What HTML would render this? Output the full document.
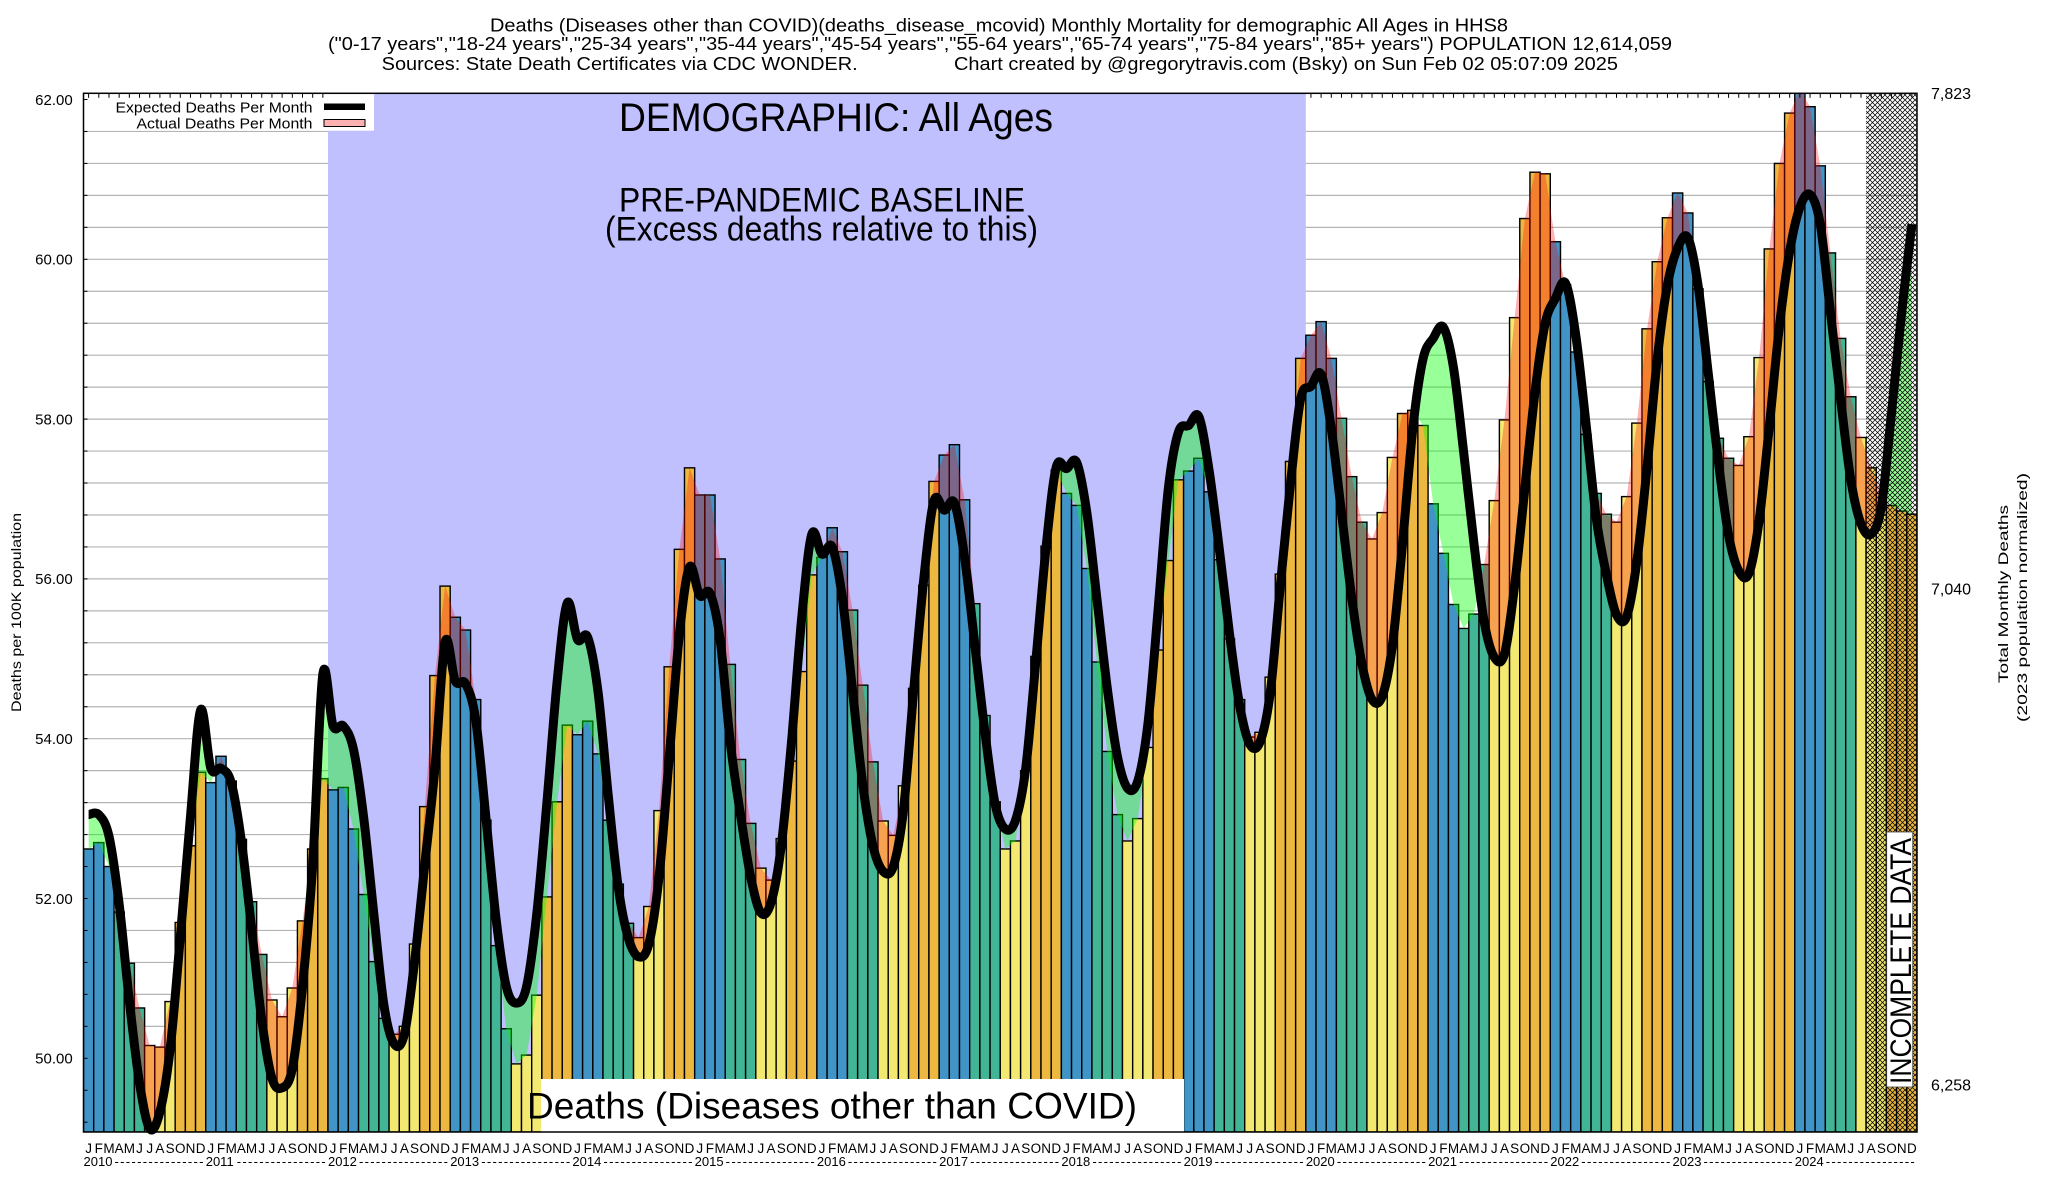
<!DOCTYPE html>
<html><head><meta charset="utf-8"><style>
html,body{margin:0;padding:0;background:#fff;}
svg{display:block;font-family:"Liberation Sans",Arial,Helvetica,sans-serif;}
</style></head><body>
<svg id="c" width="2048" height="1200" viewBox="0 0 2048 1200" xmlns="http://www.w3.org/2000/svg">
<defs>
<clipPath id="plot"><rect x="83.5" y="93.3" width="1833.5" height="1038.7"/></clipPath>
<pattern id="hatch" patternUnits="userSpaceOnUse" width="5" height="5">
<path d="M0,0L5,5M5,0L0,5" stroke="#000" stroke-width="0.75"/>
</pattern>
<clipPath id="cAboveE"><path id="pAboveE" d=""/></clipPath>
<clipPath id="cAboveA"><path id="pAboveA" d=""/></clipPath>
</defs>
<rect width="2048" height="1200" fill="#fff"/>
<g id="grid" stroke="#b4b4b4" stroke-width="1.2"></g>
<rect x="328" y="93.3" width="977.8" height="1038.7" fill="#c0c0ff"/>
<g id="bars" clip-path="url(#plot)" stroke="#000" stroke-width="1.4"></g>
<g clip-path="url(#plot)">
<path id="red" fill="rgba(255,0,0,0.3)" clip-path="url(#cAboveE)" d=""/>
<path id="green" fill="rgba(0,255,0,0.4)" clip-path="url(#cAboveA)" d=""/>
</g>
<rect x="1866.1" y="93.3" width="50.9" height="1038.7" fill="url(#hatch)"/>
<path id="exp" fill="none" stroke="#000" stroke-width="9" stroke-linejoin="round" d=""/>

<!-- legend -->
<rect x="83.5" y="93.3" width="290.5" height="37.4" fill="#fff"/>
<text x="312.5" y="112.5" font-size="15" text-anchor="end" textLength="197" lengthAdjust="spacingAndGlyphs">Expected Deaths Per Month</text>
<text x="312.5" y="128.5" font-size="15" text-anchor="end" textLength="176" lengthAdjust="spacingAndGlyphs">Actual Deaths Per Month</text>
<rect x="324" y="103.5" width="41" height="6.5" fill="#000"/>
<rect x="324" y="119.5" width="41" height="7" fill="#ffb0b0" stroke="#000" stroke-width="1"/>

<!-- big labels -->
<text x="619" y="131" font-size="40" textLength="434" lengthAdjust="spacingAndGlyphs">DEMOGRAPHIC: All Ages</text>
<text x="619" y="211.6" font-size="34" textLength="406" lengthAdjust="spacingAndGlyphs">PRE-PANDEMIC BASELINE</text>
<text x="605" y="240.3" font-size="34" textLength="433" lengthAdjust="spacingAndGlyphs">(Excess deaths relative to this)</text>

<rect x="541" y="1079" width="643" height="53" fill="#fff"/>
<text x="527" y="1118.5" font-size="37" textLength="610" lengthAdjust="spacingAndGlyphs">Deaths (Diseases other than COVID)</text>

<rect x="1886.7" y="832" width="26" height="255" fill="#fff" stroke="#444" stroke-width="0.8"/>
<text transform="translate(1911,1084) rotate(-90)" font-size="30" textLength="246" lengthAdjust="spacingAndGlyphs">INCOMPLETE DATA</text>

<!-- title -->
<text x="490" y="31.5" font-size="18" textLength="1018" lengthAdjust="spacingAndGlyphs">Deaths (Diseases other than COVID)(deaths_disease_mcovid) Monthly Mortality for demographic All Ages in HHS8</text>
<text x="328" y="50" font-size="18" textLength="1344" lengthAdjust="spacingAndGlyphs">("0-17 years","18-24 years","25-34 years","35-44 years","45-54 years","55-64 years","65-74 years","75-84 years","85+ years") POPULATION 12,614,059</text>
<text x="381.7" y="70" font-size="18" textLength="476" lengthAdjust="spacingAndGlyphs">Sources: State Death Certificates via CDC WONDER.</text>
<text x="954" y="70" font-size="18" textLength="664" lengthAdjust="spacingAndGlyphs">Chart created by @gregorytravis.com (Bsky) on Sun Feb 02 05:07:09 2025</text>

<!-- y axis labels -->
<g font-size="15" text-anchor="end">
<text x="72.7" y="105">62.00</text>
<text x="72.7" y="264.6">60.00</text>
<text x="72.7" y="424.4">58.00</text>
<text x="72.7" y="584.2">56.00</text>
<text x="72.7" y="744">54.00</text>
<text x="72.7" y="903.8">52.00</text>
<text x="72.7" y="1063.6">50.00</text>
</g>
<g font-size="16">
<text x="1931" y="99">7,823</text>
<text x="1931" y="594.7">7,040</text>
<text x="1931" y="1090.7">6,258</text>
</g>
<text transform="translate(21,712) rotate(-90)" font-size="14" textLength="199" lengthAdjust="spacingAndGlyphs">Deaths per 100K population</text>
<text transform="translate(2008,683) rotate(-90)" font-size="14" textLength="178" lengthAdjust="spacingAndGlyphs">Total Monthly Deaths</text>
<text transform="translate(2027,722) rotate(-90)" font-size="14" textLength="249" lengthAdjust="spacingAndGlyphs">(2023 population normalized)</text>

<!-- x axis month letters -->
<g font-size="13.5" text-anchor="middle">
<text transform="translate(83.50,1153)" x="5.09 15.28 25.47 35.65 45.84 56.02 66.21 76.40 86.58 96.77 106.95 117.14">JFMAMJJASOND</text>
<text transform="translate(205.73,1153)" x="5.09 15.28 25.47 35.65 45.84 56.02 66.21 76.40 86.58 96.77 106.95 117.14">JFMAMJJASOND</text>
<text transform="translate(327.97,1153)" x="5.09 15.28 25.47 35.65 45.84 56.02 66.21 76.40 86.58 96.77 106.95 117.14">JFMAMJJASOND</text>
<text transform="translate(450.20,1153)" x="5.09 15.28 25.47 35.65 45.84 56.02 66.21 76.40 86.58 96.77 106.95 117.14">JFMAMJJASOND</text>
<text transform="translate(572.43,1153)" x="5.09 15.28 25.47 35.65 45.84 56.02 66.21 76.40 86.58 96.77 106.95 117.14">JFMAMJJASOND</text>
<text transform="translate(694.67,1153)" x="5.09 15.28 25.47 35.65 45.84 56.02 66.21 76.40 86.58 96.77 106.95 117.14">JFMAMJJASOND</text>
<text transform="translate(816.90,1153)" x="5.09 15.28 25.47 35.65 45.84 56.02 66.21 76.40 86.58 96.77 106.95 117.14">JFMAMJJASOND</text>
<text transform="translate(939.13,1153)" x="5.09 15.28 25.47 35.65 45.84 56.02 66.21 76.40 86.58 96.77 106.95 117.14">JFMAMJJASOND</text>
<text transform="translate(1061.37,1153)" x="5.09 15.28 25.47 35.65 45.84 56.02 66.21 76.40 86.58 96.77 106.95 117.14">JFMAMJJASOND</text>
<text transform="translate(1183.60,1153)" x="5.09 15.28 25.47 35.65 45.84 56.02 66.21 76.40 86.58 96.77 106.95 117.14">JFMAMJJASOND</text>
<text transform="translate(1305.83,1153)" x="5.09 15.28 25.47 35.65 45.84 56.02 66.21 76.40 86.58 96.77 106.95 117.14">JFMAMJJASOND</text>
<text transform="translate(1428.07,1153)" x="5.09 15.28 25.47 35.65 45.84 56.02 66.21 76.40 86.58 96.77 106.95 117.14">JFMAMJJASOND</text>
<text transform="translate(1550.30,1153)" x="5.09 15.28 25.47 35.65 45.84 56.02 66.21 76.40 86.58 96.77 106.95 117.14">JFMAMJJASOND</text>
<text transform="translate(1672.53,1153)" x="5.09 15.28 25.47 35.65 45.84 56.02 66.21 76.40 86.58 96.77 106.95 117.14">JFMAMJJASOND</text>
<text transform="translate(1794.77,1153)" x="5.09 15.28 25.47 35.65 45.84 56.02 66.21 76.40 86.58 96.77 106.95 117.14">JFMAMJJASOND</text>
</g>
<g font-size="13">
<text x="83.5" y="1166">2010</text><text x="114.5" y="1166" textLength="89" lengthAdjust="spacing">----------------</text>
<text x="205.73" y="1166">2011</text><text x="236.73" y="1166" textLength="89" lengthAdjust="spacing">----------------</text>
<text x="327.97" y="1166">2012</text><text x="358.97" y="1166" textLength="89" lengthAdjust="spacing">----------------</text>
<text x="450.20" y="1166">2013</text><text x="481.20" y="1166" textLength="89" lengthAdjust="spacing">----------------</text>
<text x="572.43" y="1166">2014</text><text x="603.43" y="1166" textLength="89" lengthAdjust="spacing">----------------</text>
<text x="694.67" y="1166">2015</text><text x="725.67" y="1166" textLength="89" lengthAdjust="spacing">----------------</text>
<text x="816.90" y="1166">2016</text><text x="847.90" y="1166" textLength="89" lengthAdjust="spacing">----------------</text>
<text x="939.13" y="1166">2017</text><text x="970.13" y="1166" textLength="89" lengthAdjust="spacing">----------------</text>
<text x="1061.37" y="1166">2018</text><text x="1092.37" y="1166" textLength="89" lengthAdjust="spacing">----------------</text>
<text x="1183.60" y="1166">2019</text><text x="1214.60" y="1166" textLength="89" lengthAdjust="spacing">----------------</text>
<text x="1305.83" y="1166">2020</text><text x="1336.83" y="1166" textLength="89" lengthAdjust="spacing">----------------</text>
<text x="1428.07" y="1166">2021</text><text x="1459.07" y="1166" textLength="89" lengthAdjust="spacing">----------------</text>
<text x="1550.30" y="1166">2022</text><text x="1581.30" y="1166" textLength="89" lengthAdjust="spacing">----------------</text>
<text x="1672.53" y="1166">2023</text><text x="1703.53" y="1166" textLength="89" lengthAdjust="spacing">----------------</text>
<text x="1794.77" y="1166">2024</text><text x="1825.77" y="1166" textLength="89" lengthAdjust="spacing">----------------</text>
</g>

<g id="ticks" stroke="#000" stroke-width="1"></g>
<rect x="83.5" y="93.3" width="1833.5" height="1038.7" fill="none" stroke="#000" stroke-width="1.5"/>
</svg>
<script>
(function(){
var A=[52.62,52.70,52.40,51.83,51.19,50.63,50.16,50.14,50.71,51.70,52.66,53.58,
53.45,53.78,53.47,52.74,51.96,51.30,50.73,50.52,50.88,51.72,52.62,53.50,
53.36,53.39,52.87,52.05,51.21,50.50,50.30,50.40,51.43,53.15,54.79,55.91,
55.52,55.36,54.49,52.98,51.41,50.37,49.93,50.04,50.79,52.02,53.21,54.17,
54.05,54.22,53.81,52.98,52.18,51.69,51.51,51.90,53.10,54.90,56.37,57.39,
57.05,57.05,56.25,54.93,53.74,52.94,52.38,52.23,52.75,53.72,54.84,56.05,
56.27,56.64,56.34,55.61,54.67,53.71,52.97,52.79,53.41,54.63,55.92,57.22,
57.55,57.68,56.99,55.69,54.29,53.21,52.62,52.72,53.60,55.03,56.41,57.36,
57.07,56.92,56.13,54.96,53.84,53.05,52.72,53.00,53.89,55.11,56.23,57.24,
57.35,57.51,57.09,56.24,55.25,54.49,54.02,54.08,54.77,56.06,57.47,58.76,
59.05,59.22,58.76,58.01,57.28,56.71,56.50,56.83,57.52,58.07,58.11,57.92,
56.94,56.32,55.68,55.38,55.56,56.18,56.98,57.99,59.27,60.51,61.09,61.07,
60.22,59.68,58.84,57.81,57.07,56.81,56.71,57.03,57.95,59.13,59.97,60.52,
60.83,60.58,59.63,58.47,57.76,57.51,57.42,57.78,58.77,60.13,61.20,61.83,
62.12,61.91,61.17,60.08,59.01,58.28,57.77,57.39,57.07,56.92,56.85,56.81];
var E=[53.05,53.05,52.78,51.93,50.72,49.69,49.12,49.33,50.11,51.51,53.02,54.36,
53.63,53.63,53.45,52.72,51.63,50.48,49.75,49.63,49.87,50.90,52.42,54.81,
54.16,54.16,53.87,53.02,51.81,50.66,50.18,50.30,51.21,52.42,53.63,55.21,
54.72,54.69,54.24,53.02,51.75,50.90,50.69,50.90,51.81,53.21,54.72,55.70,
55.24,55.27,54.60,53.31,52.14,51.50,51.27,51.43,52.27,53.76,55.31,56.15,
55.79,55.82,55.24,53.95,53.05,52.27,51.82,51.95,52.66,53.95,55.50,56.56,
56.31,56.40,55.76,54.60,53.43,52.66,52.34,52.40,53.11,54.60,56.01,56.98,
56.86,56.95,56.27,55.18,54.08,53.18,52.87,52.98,53.63,54.98,56.40,57.40,
57.38,57.46,56.83,55.74,54.64,53.78,53.38,53.47,54.19,55.62,57.13,57.84,
57.92,58.03,57.36,56.38,55.32,54.42,53.93,53.96,54.57,55.92,57.20,58.26,
58.41,58.56,57.88,56.83,55.77,54.94,54.49,54.53,55.17,56.45,57.88,58.75,
59.01,59.15,58.64,57.58,56.45,55.47,55.02,55.06,55.92,57.13,58.34,59.20,
59.51,59.70,59.05,57.95,56.77,56.06,55.55,55.53,56.22,57.40,58.75,59.68,
60.14,60.27,59.68,58.58,57.47,56.55,56.10,56.07,56.73,57.91,59.17,60.10,
60.65,60.81,60.44,59.34,58.25,57.24,56.69,56.56,56.90,58.08,59.34,60.44];
var L=83.5,R=1917,T=93.3,B=1132,P=(R-L)/180;
function Y(v){return 259.3+(60-v)*79.9;}
function f(n){return n.toFixed(2);}
var g='';
for(var k=1;k<=32;k++){var y=Y(62-0.4*k);g+='<line x1="'+L+'" x2="'+R+'" y1="'+f(y)+'" y2="'+f(y)+'"/>';}
document.getElementById('grid').innerHTML=g;
var cols=['#4194c6','#42b596','#f3e970','#edb840'];
var b='';
for(var i=0;i<180;i++){var x=L+i*P,yy=Math.max(Y(A[i]),T-5);
b+='<rect x="'+f(x)+'" y="'+f(yy)+'" width="'+f(P)+'" height="'+f(B-yy)+'" fill="'+cols[Math.floor((i%12)/3)]+'"/>';}
document.getElementById('bars').innerHTML=b;
var ep=E.map(function(v,i){return [L+(i+0.5)*P,Y(v)];});
var d='M'+f(ep[0][0])+','+f(ep[0][1]);
for(var i=0;i<ep.length-1;i++){var p0=ep[i-1]||ep[i],p1=ep[i],p2=ep[i+1],p3=ep[i+2]||ep[i+1];
var c1x=p1[0]+(p2[0]-p0[0])/6,c1y=p1[1]+(p2[1]-p0[1])/6,c2x=p2[0]-(p3[0]-p1[0])/6,c2y=p2[1]-(p3[1]-p1[1])/6;
d+='C'+f(c1x)+','+f(c1y)+' '+f(c2x)+','+f(c2y)+' '+f(p2[0])+','+f(p2[1]);}
var ap=A.map(function(v,i){return [L+(i+0.5)*P,Y(v)];});
var pa='M'+ap.map(function(p){return f(p[0])+','+f(p[1]);}).join('L');
var x0=f(ap[0][0]),x1=f(ap[179][0]);
document.getElementById('exp').setAttribute('d',d);
document.getElementById('red').setAttribute('d',pa+'L'+x1+','+B+'L'+x0+','+B+'Z');
document.getElementById('pAboveE').setAttribute('d',d+'L'+x1+',0L'+x0+',0Z');
document.getElementById('green').setAttribute('d',d+'L'+x1+','+B+'L'+x0+','+B+'Z');
document.getElementById('pAboveA').setAttribute('d',pa+'L'+x1+',0L'+x0+',0Z');
var t='';
for(var i=0;i<180;i++){var x=L+(i+0.5)*P;if(x>328&&x<1306)continue;t+='<line x1="'+f(x)+'" x2="'+f(x)+'" y1="'+T+'" y2="'+(T+4.5)+'"/>';}
for(var k=0;k<=32;k++){var y=Y(62-0.4*k);t+='<line x1="'+L+'" x2="'+(L+4)+'" y1="'+f(y)+'" y2="'+f(y)+'"/>';}
document.getElementById('ticks').innerHTML=t;
})();
</script>
</body></html>
